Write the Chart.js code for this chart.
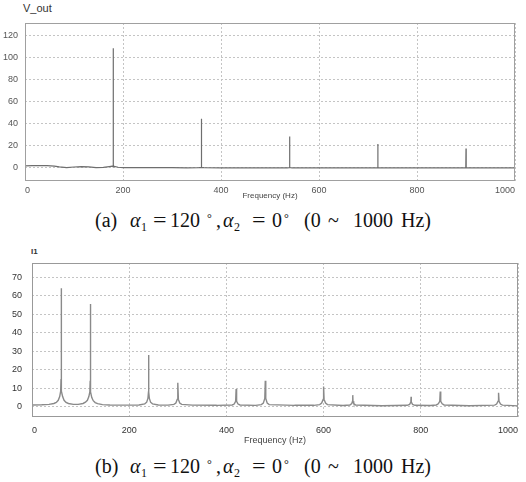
<!DOCTYPE html>
<html>
<head>
<meta charset="utf-8">
<script src="https://cdn.jsdelivr.net/npm/chart.js@4/dist/chart.umd.min.js"></script>
<style>
  html, body { margin: 0; padding: 0; background: #fff; }
  #page { position: relative; width: 526px; height: 482px; overflow: hidden; }
  canvas { position: absolute; left: 0; }
  .lbl { position: absolute; font-family: "Liberation Sans", Arial, sans-serif; color: #333; }
  .cap { position: absolute; left: 0; width: 526px; height: 26px; font-family: "Liberation Serif", "DejaVu Serif", serif; font-size: 20px; line-height: 20px; color: #111; }
  .cap span { position: absolute; top: 0; white-space: pre; }
  .cap .sub { font-size: 12px; top: 7px; }
  .cap .eq { transform: scaleX(1.2); transform-origin: left center; }
  .cap .deg { font-size: 12px; top: -2px; }
</style>
</head>
<body>
<div id="page">
  <div class="lbl" style="left:23px; top:2px; font-size:11px;">V_out</div>
  <canvas id="chartA" width="526" height="201" style="top:0"></canvas>
  <div class="cap" id="capA" style="top:210px"></div>

  <div class="lbl" style="left:31px; top:247px; font-size:8px; font-weight:bold;">I1</div>
  <canvas id="chartB" width="526" height="206" style="top:240px"></canvas>
  <div class="cap" id="capB" style="top:456px"></div>
</div>
<script>
// (a) V_out 頻譜
const freqA = [0, 15, 30, 45, 60, 70, 85, 100, 115, 130, 145, 160, 172, 178, 179.6, 180, 180.4, 182, 190, 200,
               230, 260, 300, 330, 355, 359.6, 360, 360.4, 365, 400, 450, 500, 535, 539.6, 540, 540.4, 545,
               600, 650, 700, 719.6, 720, 720.4, 760, 800, 850, 899.6, 900, 900.4, 950, 1000];
const valsA = [1.2, 1.5, 1.6, 1.4, 1.0, 0.3, -0.4, 0.2, 0.5, 0.3, -0.4, -0.2, 0.6, 1.0, 0.5, 108, 0.5, 0.8, 0, -0.3,
               -0.4, -0.3, -0.4, -0.5, -0.4, -0.2, 44, -0.2, -0.4, -0.5, -0.5, -0.5, -0.5, -0.3, 28, -0.3, -0.5,
               -0.5, -0.5, -0.5, -0.3, 21, -0.3, -0.5, -0.5, -0.5, -0.3, 17, -0.3, -0.5, -0.5];
const yTicksA = [0, 20, 40, 60, 80, 100, 120];

// (b) I1 頻譜
const freqB = [0, 20, 35, 45, 50, 54, 57, 59, 59.7, 60, 60.3, 61, 63, 66, 70, 75, 85,
               95, 105, 110, 114, 117, 119, 119.7, 120, 120.3, 121, 123, 126, 130, 135, 145, 160,
               190, 220, 232, 236, 238.5, 239.7, 240, 240.3, 241.5, 244, 248, 260,
               280, 292, 296, 298.8, 300, 301.2, 304, 308, 330,
               380, 412, 416, 419, 420, 421, 424, 428,
               460, 472, 476, 479, 480, 481, 484, 488,
               540, 580, 592, 596, 599, 600, 601, 604, 608,
               640, 654, 658, 659.5, 660, 660.5, 662, 666,
               720, 772, 777, 779.5, 780, 780.5, 783, 788,
               820, 832, 836, 839, 840, 841, 844, 848,
               900, 952, 956, 959, 960, 961, 964, 968, 1000];
const valsB = [1, 1.1, 1.3, 1.8, 2.4, 3.5, 5.5, 8.5, 15, 64, 15, 8.5, 5.5, 3.5, 2.4, 1.8, 1.3,
               1.3, 1.8, 2.5, 3.5, 5.5, 8, 14, 55.5, 14, 8, 5, 3.3, 2.3, 1.7, 1.2, 1,
               0.9, 1, 1.6, 2.5, 4.5, 8, 28, 8, 4.5, 2.5, 1.6, 1,
               0.9, 1.3, 2, 4, 13, 4, 2, 1.3, 0.9,
               0.8, 1, 1.5, 3, 9.6, 3, 1.5, 1,
               0.8, 1.2, 2, 4.5, 14, 4.5, 2, 1.2,
               0.8, 0.8, 1.2, 2, 4, 11, 4, 2, 1.2,
               0.7, 1, 1.8, 3, 6.3, 3, 1.8, 1,
               0.6, 0.8, 1.3, 2.5, 5.4, 2.5, 1.3, 0.8,
               0.7, 1, 1.6, 3, 8.3, 3, 1.6, 1,
               0.6, 0.9, 1.5, 3, 7.6, 3, 1.5, 0.9, 0.5];
const yTicksB = [0, 10, 20, 30, 40, 50, 60, 70];

const xTicks = [0, 200, 400, 600, 800, 1000];

// 圖說：每段文字與其水平位置
function buildCaption(el, tag) {
    const parts = [
        [tag, 95, ''], ['α', 130, 'font-style:italic'], ['1', 141, 'sub'],
        ['=', 153, 'eq'], ['120', 170, ''], ['°', 207, 'deg'], [',', 216, ''],
        ['α', 223, 'font-style:italic'], ['2', 234, 'sub'], ['=', 252, 'eq'],
        ['0', 272, ''], ['°', 284, 'deg'], ['(0', 304, ''], ['~', 328, ''],
        ['1000', 353, ''], ['Hz)', 401, '']
    ];
    parts.forEach(([text, x, cls]) => {
        const s = document.createElement('span');
        s.textContent = text;
        s.style.left = x + 'px';
        if (cls.includes(':')) s.style.cssText += cls;
        else if (cls) s.className = cls;
        el.appendChild(s);
    });
}

// 畫出圖框
const framePlugin = {
    id: 'frame',
    afterDraw(chart, args, opts) {
        const a = chart.chartArea;
        const ctx = chart.ctx;
        ctx.save();
        ctx.strokeStyle = opts.color;
        ctx.lineWidth = 1;
        ctx.strokeRect(a.left + 0.5, a.top + 0.5, a.width - 1, a.height - 1);
        ctx.restore();
    }
};

function makeSpectrum(id, freqs, vals, cfg) {
    const points = freqs.map((f, i) => ({ x: f, y: vals[i] }));
    new Chart(document.getElementById(id), {
        type: 'scatter',
        data: {
            datasets: [{
                data: points,
                showLine: true,
                pointRadius: 0,
                borderColor: cfg.lineColor,
                borderWidth: cfg.lineWidth,
                tension: 0
            }]
        },
        options: {
            responsive: false,
            animation: false,
            layout: { padding: cfg.padding },
            plugins: {
                legend: { display: false },
                tooltip: { enabled: false },
                frame: { color: cfg.frameColor }
            },
            scales: {
                x: {
                    type: 'linear',
                    min: 0,
                    max: 1000,
                    afterBuildTicks: s => { s.ticks = xTicks.map(v => ({ value: v })); },
                    afterFit: s => { s.height = cfg.xHeight; },
                    grid: { color: '#c4c4c4', drawTicks: false },
                    border: { display: false, dash: [2, 2] },
                    ticks: {
                        align: 'inner',
                        padding: cfg.xPad,
                        maxRotation: 0,
                        color: cfg.tickColor,
                        font: { family: 'Liberation Sans', size: 9 },
                        callback: v => String(v)
                    },
                    title: {
                        display: true,
                        text: 'Frequency (Hz)',
                        color: '#444',
                        padding: 0,
                        font: { family: 'Liberation Sans', size: cfg.titleSize }
                    }
                },
                y: {
                    type: 'linear',
                    min: cfg.yMin,
                    max: cfg.yMax,
                    afterBuildTicks: s => { s.ticks = cfg.yTicks.map(v => ({ value: v })); },
                    afterFit: s => { s.width = cfg.yWidth; },
                    grid: { color: '#c4c4c4', drawTicks: false },
                    border: { display: false, dash: [2, 2] },
                    ticks: {
                        padding: cfg.yPad,
                        color: cfg.tickColor,
                        font: { family: 'Liberation Sans', size: 9 },
                        callback: v => String(v)
                    }
                }
            }
        },
        plugins: [framePlugin]
    });
}

document.addEventListener('DOMContentLoaded', function() {
    buildCaption(document.getElementById('capA'), '(a)');
    buildCaption(document.getElementById('capB'), '(b)');

    makeSpectrum('chartA', freqA, valsA, {
        lineColor: '#6e6e6e', lineWidth: 1.2, frameColor: '#a0a0a0', tickColor: '#555',
        padding: { top: 23, right: 11, left: 0, bottom: 0 },
        xHeight: 20, yWidth: 25, xPad: 4, yPad: 7, titleSize: 8,
        yMin: -12.5, yMax: 131, yTicks: yTicksA
    });
    makeSpectrum('chartB', freqB, valsB, {
        lineColor: '#8a8a8a', lineWidth: 1.4, frameColor: '#999', tickColor: '#333',
        padding: { top: 23, right: 8, left: 0, bottom: 0 },
        xHeight: 29, yWidth: 32, xPad: 8, yPad: 10, titleSize: 9,
        yMin: -5.5, yMax: 77.6, yTicks: yTicksB
    });
});
</script>
</body>
</html>
